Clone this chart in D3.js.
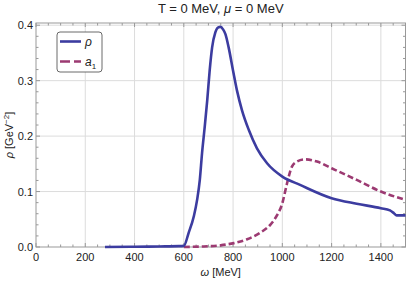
<!DOCTYPE html>
<html>
<head>
<meta charset="utf-8">
<script src="https://cdn.jsdelivr.net/npm/d3@7"></script>
<style>
  body { margin: 0; background: #fff; }
  text { font-family: "Liberation Sans", Arial, sans-serif; fill: #222; }
</style>
</head>
<body>
<svg id="chart" width="407" height="282"></svg>
<script>
// rho meson spectral function [omega MeV, value GeV^-2]
var rhoW = [280, 400, 500, 580, 600, 620, 641, 654, 665, 674, 685, 695, 705, 715, 728, 740, 749, 760, 769, 782, 800, 816, 836, 864, 897, 938, 1000, 1072, 1200, 1302, 1400, 1437, 1453, 1464, 1500];
var rhoV = [0, 0.0005, 0.001, 0.0015, 0.002, 0.026, 0.056, 0.085, 0.121, 0.169, 0.217, 0.264, 0.318, 0.36, 0.387, 0.396, 0.397, 0.392, 0.384, 0.36, 0.318, 0.282, 0.247, 0.211, 0.178, 0.151, 0.127, 0.112, 0.088, 0.078, 0.070, 0.066, 0.061, 0.057, 0.057];

// a1 spectral function
var a1W = [600, 681, 749, 803, 857, 911, 951, 978, 1000, 1016, 1026, 1039, 1059, 1093, 1141, 1200, 1302, 1400, 1500];
var a1V = [0, 0.001, 0.003, 0.007, 0.014, 0.026, 0.040, 0.057, 0.079, 0.109, 0.127, 0.145, 0.154, 0.158, 0.154, 0.142, 0.121, 0.100, 0.085];

var xTicks = [0, 200, 400, 600, 800, 1000, 1200, 1400];
var yTicks = [0.0, 0.1, 0.2, 0.3, 0.4];

var blue = "#3c3ca0",
	purple = "#9c3a72";

var svg = d3.select("#chart"),
	margin = {top: 23, right: 1.5, bottom: 35, left: 36},
	width = 407 - margin.left - margin.right,
	height = 282 - margin.top - margin.bottom;

var x = d3.scaleLinear().domain([0, 1500]).range([0, width]);
var y = d3.scaleLinear().domain([0, 0.404]).range([height, 0]);

var g = svg.append("g")
	.attr("transform", "translate(" + margin.left + "," + margin.top + ")");

// grid lines
g.selectAll("line.gx")
	.data(xTicks.slice(1))
	.enter().append("line")
	.attr("class", "gx")
	.attr("x1", d => x(d)).attr("x2", d => x(d))
	.attr("y1", 0).attr("y2", height)
	.attr("stroke", "#dcdcdc").attr("stroke-width", 1);

g.selectAll("line.gy")
	.data(yTicks.slice(1))
	.enter().append("line")
	.attr("class", "gy")
	.attr("x1", 0).attr("x2", width)
	.attr("y1", d => y(d)).attr("y2", d => y(d))
	.attr("stroke", "#dcdcdc").attr("stroke-width", 1);

// frame ticks (inside), major + minor
var xMinor = d3.range(0, 1501, 50).filter(v => v % 200 != 0);
var yMinor = d3.range(0, 0.405, 0.02).filter(v => Math.abs(v * 10 - Math.round(v * 10)) > 1e-6);

function xTickMarks(vals, len) {
	vals.forEach(function(v) {
		g.append("line").attr("x1", x(v)).attr("x2", x(v))
			.attr("y1", height).attr("y2", height - len)
			.attr("stroke", "#999");
		g.append("line").attr("x1", x(v)).attr("x2", x(v))
			.attr("y1", 0).attr("y2", len)
			.attr("stroke", "#999");
	});
}
function yTickMarks(vals, len) {
	vals.forEach(function(v) {
		g.append("line").attr("x1", 0).attr("x2", len)
			.attr("y1", y(v)).attr("y2", y(v))
			.attr("stroke", "#999");
		g.append("line").attr("x1", width).attr("x2", width - len)
			.attr("y1", y(v)).attr("y2", y(v))
			.attr("stroke", "#999");
	});
}
xTickMarks(xTicks, 4);
xTickMarks(xMinor, 2.5);
yTickMarks(yTicks, 4);
yTickMarks(yMinor, 2.5);

// frame
g.append("rect")
	.attr("x", 0).attr("y", 0)
	.attr("width", width).attr("height", height)
	.attr("fill", "none").attr("stroke", "#999").attr("stroke-width", 1);

// tick labels
g.selectAll("text.xl")
	.data(xTicks)
	.enter().append("text")
	.attr("class", "xl")
	.attr("x", d => x(d)).attr("y", height + 14)
	.attr("text-anchor", "middle")
	.attr("font-size", "11px")
	.text(d => d);

g.selectAll("text.yl")
	.data(yTicks)
	.enter().append("text")
	.attr("class", "yl")
	.attr("x", -3).attr("y", d => y(d) + 4)
	.attr("text-anchor", "end")
	.attr("font-size", "11px")
	.text(d => d3.format(".1f")(d));

// curves
var line = d3.line()
	.x(d => x(d[0]))
	.y(d => y(d[1]))
	.curve(d3.curveMonotoneX);

var rhoData = rhoW.map((w, i) => [w, rhoV[i]]);
var a1Data = a1W.map((w, i) => [w, a1V[i]]);

g.append("path")
	.datum(a1Data)
	.attr("d", line)
	.attr("fill", "none")
	.attr("stroke", purple)
	.attr("stroke-width", 2.6)
	.attr("stroke-dasharray", "6,3");

g.append("path")
	.datum(rhoData)
	.attr("d", line)
	.attr("fill", "none")
	.attr("stroke", blue)
	.attr("stroke-width", 2.6)
	.attr("stroke-linejoin", "round");

// legend
var legend = svg.append("g").attr("transform", "translate(57,32)");
legend.append("rect")
	.attr("x", 0).attr("y", 0)
	.attr("width", 45).attr("height", 40)
	.attr("rx", 3)
	.attr("fill", "#fff").attr("stroke", "#444").attr("stroke-width", 0.8);
legend.append("line")
	.attr("x1", 3).attr("x2", 24).attr("y1", 9.5).attr("y2", 9.5)
	.attr("stroke", blue).attr("stroke-width", 2.6);
legend.append("text")
	.attr("x", 28).attr("y", 14)
	.attr("font-size", "12px").attr("font-style", "italic")
	.text("ρ");
legend.append("line")
	.attr("x1", 3).attr("x2", 24).attr("y1", 29.5).attr("y2", 29.5)
	.attr("stroke", purple).attr("stroke-width", 2.6)
	.attr("stroke-dasharray", "10,4");
var a1t = legend.append("text")
	.attr("x", 28).attr("y", 34)
	.attr("font-size", "12px");
a1t.append("tspan").attr("font-style", "italic").text("a");
a1t.append("tspan").attr("font-size", "8px").attr("dy", 3).text("1");

// title
var title = svg.append("text")
	.attr("x", margin.left + width / 2).attr("y", 13)
	.attr("text-anchor", "middle")
	.attr("font-size", "13px");
title.append("tspan").text("T = 0 MeV, ");
title.append("tspan").attr("font-style", "italic").text("μ");
title.append("tspan").text(" = 0 MeV");

// x label
var xl = svg.append("text")
	.attr("x", margin.left + width / 2).attr("y", 276)
	.attr("text-anchor", "middle")
	.attr("font-size", "11px");
xl.append("tspan").attr("font-style", "italic").text("ω");
xl.append("tspan").text(" [MeV]");

// y label
var yl = svg.append("text")
	.attr("transform", "translate(13," + (margin.top + height / 2) + ") rotate(-90)")
	.attr("text-anchor", "middle")
	.attr("font-size", "11px");
yl.append("tspan").attr("font-style", "italic").text("ρ");
yl.append("tspan").text(" [GeV");
yl.append("tspan").attr("font-size", "8px").attr("dy", -4).text("−2");
yl.append("tspan").attr("dy", 4).text("]");
</script>
</body>
</html>
